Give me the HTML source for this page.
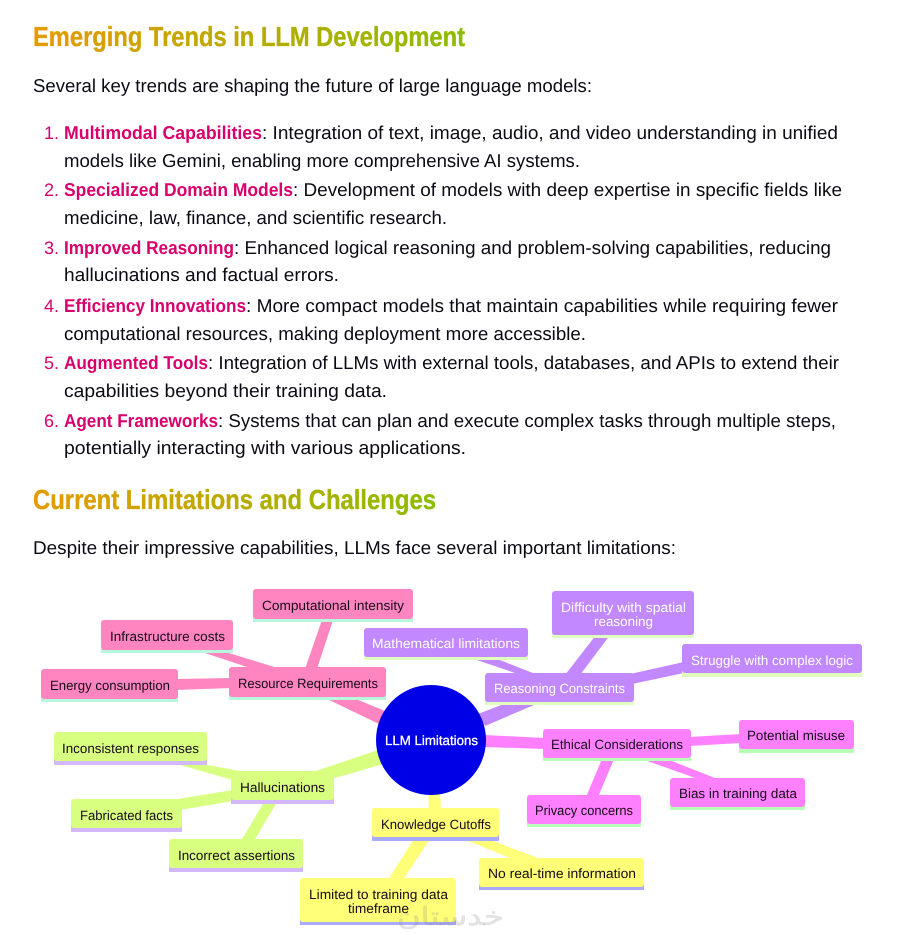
<!DOCTYPE html>
<html lang="en">
<head>
<meta charset="utf-8">
<title>Emerging Trends in LLM Development</title>
<style>
html,body{margin:0;padding:0;background:#fff;width:900px;height:949px;overflow:hidden}
svg{display:block}
text{font-family:"Liberation Sans",sans-serif;text-rendering:geometricPrecision}
.h{font-size:27.5px;font-weight:700;fill:url(#g);stroke:url(#g);stroke-width:.35px}
.b{font-size:18.6px;fill:#0a0a14}
.s{font-size:18.6px;font-weight:700;fill:#d9006c}
.n{font-size:18px;fill:#d9006c}
.t{font-size:13.4px;fill:#160a18}
.w{font-size:13.4px;fill:#fff}
.pk polygon,.pk rect.f{fill:#ff85c0}.pk rect.e{fill:#b9f7dc}
.pu polygon,.pu rect.f{fill:#c288ff}.pu rect.e{fill:#e0ffbf}
.mg polygon,.mg rect.f{fill:#ff80ff}.mg rect.e{fill:#b8ffb8}
.gr polygon,.gr rect.f{fill:#d8ff80}.gr rect.e{fill:#d4b8ff}
.ye polygon,.ye rect.f{fill:#ffff78}.ye rect.e{fill:#aaaaff}
</style>
</head>
<body>
<svg width="900" height="949" viewBox="0 0 900 949" xmlns="http://www.w3.org/2000/svg">
<defs>
<linearGradient id="g" x1="0" y1="0" x2="1" y2="0">
<stop offset="0" stop-color="#e69a00"/><stop offset="1" stop-color="#8cbc00"/>
</linearGradient>
</defs>

<text class="h" x="33" y="46" textLength="432" lengthAdjust="spacingAndGlyphs">Emerging Trends in LLM Development</text>
<text class="b" x="33" y="92" textLength="559" lengthAdjust="spacingAndGlyphs">Several key trends are shaping the future of large language models:</text>

<text class="n" x="44" y="139">1.</text>
<text class="s" x="64" y="139" textLength="198" lengthAdjust="spacingAndGlyphs">Multimodal Capabilities</text>
<text class="b" x="262" y="139" textLength="576" lengthAdjust="spacingAndGlyphs">: Integration of text, image, audio, and video understanding in unified</text>
<text class="b" x="64" y="167" textLength="516" lengthAdjust="spacingAndGlyphs">models like Gemini, enabling more comprehensive AI systems.</text>

<text class="n" x="44" y="196">2.</text>
<text class="s" x="64" y="196" textLength="229" lengthAdjust="spacingAndGlyphs">Specialized Domain Models</text>
<text class="b" x="293" y="196" textLength="549" lengthAdjust="spacingAndGlyphs">: Development of models with deep expertise in specific fields like</text>
<text class="b" x="64" y="224" textLength="383" lengthAdjust="spacingAndGlyphs">medicine, law, finance, and scientific research.</text>

<text class="n" x="44" y="254">3.</text>
<text class="s" x="64" y="254" textLength="170" lengthAdjust="spacingAndGlyphs">Improved Reasoning</text>
<text class="b" x="234" y="254" textLength="597" lengthAdjust="spacingAndGlyphs">: Enhanced logical reasoning and problem-solving capabilities, reducing</text>
<text class="b" x="64" y="281" textLength="275" lengthAdjust="spacingAndGlyphs">hallucinations and factual errors.</text>

<text class="n" x="44" y="312">4.</text>
<text class="s" x="64" y="312" textLength="182" lengthAdjust="spacingAndGlyphs">Efficiency Innovations</text>
<text class="b" x="246" y="312" textLength="592" lengthAdjust="spacingAndGlyphs">: More compact models that maintain capabilities while requiring fewer</text>
<text class="b" x="64" y="340" textLength="522" lengthAdjust="spacingAndGlyphs">computational resources, making deployment more accessible.</text>

<text class="n" x="44" y="369">5.</text>
<text class="s" x="64" y="369" textLength="144" lengthAdjust="spacingAndGlyphs">Augmented Tools</text>
<text class="b" x="208" y="369" textLength="631" lengthAdjust="spacingAndGlyphs">: Integration of LLMs with external tools, databases, and APIs to extend their</text>
<text class="b" x="64" y="397" textLength="323" lengthAdjust="spacingAndGlyphs">capabilities beyond their training data.</text>

<text class="n" x="44" y="427">6.</text>
<text class="s" x="64" y="427" textLength="154" lengthAdjust="spacingAndGlyphs">Agent Frameworks</text>
<text class="b" x="218" y="427" textLength="618" lengthAdjust="spacingAndGlyphs">: Systems that can plan and execute complex tasks through multiple steps,</text>
<text class="b" x="64" y="454" textLength="402" lengthAdjust="spacingAndGlyphs">potentially interacting with various applications.</text>

<text class="h" x="33" y="509" textLength="403" lengthAdjust="spacingAndGlyphs">Current Limitations and Challenges</text>
<text class="b" x="33" y="554" textLength="643" lengthAdjust="spacingAndGlyphs">Despite their impressive capabilities, LLMs face several important limitations:</text>

<!-- Resource Requirements -->
<g class="pk">
<polygon points="323,697 351,697 385,711 379,724"/>
<polygon points="322,620 333,620 317,669 305,669"/>
<polygon points="196,650 219,650 281,669 253,669"/>
<polygon points="176,679 231,678 231,688 176,690"/>
<rect class="e" x="253" y="592" width="160" height="30"/><rect class="f" x="253" y="589" width="160" height="30" rx="3"/>
<rect class="e" x="101" y="623" width="132" height="30"/><rect class="f" x="101" y="620" width="132" height="30" rx="3"/>
<rect class="e" x="41" y="672" width="137" height="30"/><rect class="f" x="41" y="669" width="137" height="30" rx="3"/>
<rect class="e" x="229" y="670" width="157" height="30"/><rect class="f" x="229" y="667" width="157" height="30" rx="3"/>
<text class="t" x="262" y="610" textLength="142" lengthAdjust="spacingAndGlyphs">Computational intensity</text>
<text class="t" x="110" y="641" textLength="115" lengthAdjust="spacingAndGlyphs">Infrastructure costs</text>
<text class="t" x="50" y="690" textLength="120" lengthAdjust="spacingAndGlyphs">Energy consumption</text>
<text class="t" x="238" y="688" textLength="140" lengthAdjust="spacingAndGlyphs">Resource Requirements</text>
</g>

<!-- Reasoning Constraints -->
<g class="pu">
<polygon points="509,702 541,702 485,726 478,714"/>
<polygon points="468,657 492,657 538,675 521,675"/>
<polygon points="596,635 610,635 580,675 565,675"/>
<polygon points="630,674 684,662 684,673 632,684"/>
<rect class="e" x="364" y="631" width="164" height="29"/><rect class="f" x="364" y="628" width="164" height="29" rx="3"/>
<rect class="e" x="552" y="594" width="142" height="44"/><rect class="f" x="552" y="591" width="142" height="44" rx="3"/>
<rect class="e" x="682" y="648" width="180" height="29"/><rect class="f" x="682" y="644" width="180" height="29" rx="3"/>
<rect class="e" x="485" y="676" width="149" height="29"/><rect class="f" x="485" y="673" width="149" height="29" rx="3"/>
<text class="w" x="372" y="648" textLength="148" lengthAdjust="spacingAndGlyphs">Mathematical limitations</text>
<text class="w" x="561" y="612" textLength="125" lengthAdjust="spacingAndGlyphs">Difficulty with spatial</text>
<text class="w" x="594" y="626" textLength="59" lengthAdjust="spacingAndGlyphs">reasoning</text>
<text class="w" x="691" y="665" textLength="162" lengthAdjust="spacingAndGlyphs">Struggle with complex logic</text>
<text class="w" x="494" y="693" textLength="131" lengthAdjust="spacingAndGlyphs">Reasoning Constraints</text>
</g>

<!-- Ethical Considerations -->
<g class="mg">
<polygon points="484,735 545,738 545,749 484,747"/>
<polygon points="689,737 741,734 741,743 689,746"/>
<polygon points="602,759 614,759 598,797 586,797"/>
<polygon points="639,758 664,758 720,780 701,780"/>
<rect class="e" x="543" y="732" width="148" height="29"/><rect class="f" x="543" y="729" width="148" height="29" rx="3"/>
<rect class="e" x="739" y="724" width="115" height="29"/><rect class="f" x="739" y="720" width="115" height="29" rx="3"/>
<rect class="e" x="527" y="798" width="114" height="29"/><rect class="f" x="527" y="795" width="114" height="29" rx="3"/>
<rect class="e" x="670" y="781" width="135" height="29"/><rect class="f" x="670" y="778" width="135" height="29" rx="3"/>
<text class="t" x="551" y="749" textLength="132" lengthAdjust="spacingAndGlyphs">Ethical Considerations</text>
<text class="t" x="747" y="740" textLength="98" lengthAdjust="spacingAndGlyphs">Potential misuse</text>
<text class="t" x="535" y="815" textLength="98" lengthAdjust="spacingAndGlyphs">Privacy concerns</text>
<text class="t" x="679" y="798" textLength="118" lengthAdjust="spacingAndGlyphs">Bias in training data</text>
</g>

<!-- Hallucinations -->
<g class="gr">
<polygon points="378,750 383,764 332,779 310,773"/>
<polygon points="166,761 185,761 240,771 233,780"/>
<polygon points="178,799 233,790 233,801 180,810"/>
<polygon points="264,802 277,802 254,841 241,841"/>
<rect class="e" x="54" y="736" width="153" height="29"/><rect class="f" x="54" y="732" width="153" height="29" rx="3"/>
<rect class="e" x="231" y="775" width="103" height="29"/><rect class="f" x="231" y="771" width="103" height="29" rx="3"/>
<rect class="e" x="71" y="803" width="111" height="29"/><rect class="f" x="71" y="799" width="111" height="29" rx="3"/>
<rect class="e" x="169" y="843" width="134" height="29"/><rect class="f" x="169" y="839" width="134" height="29" rx="3"/>
<text class="t" x="62" y="753" textLength="137" lengthAdjust="spacingAndGlyphs">Inconsistent responses</text>
<text class="t" x="240" y="792" textLength="85" lengthAdjust="spacingAndGlyphs">Hallucinations</text>
<text class="t" x="80" y="820" textLength="93" lengthAdjust="spacingAndGlyphs">Fabricated facts</text>
<text class="t" x="178" y="860" textLength="117" lengthAdjust="spacingAndGlyphs">Incorrect assertions</text>
</g>

<!-- Knowledge Cutoffs -->
<g class="ye">
<polygon points="428,790 440,790 441,810 429,810"/>
<polygon points="414,839 430,839 403,880 388,880"/>
<polygon points="461,838 485,838 543,860 515,860"/>
<rect class="e" x="372" y="812" width="127" height="29"/><rect class="f" x="372" y="808" width="127" height="29" rx="3"/>
<rect class="e" x="479" y="861" width="165" height="29"/><rect class="f" x="479" y="858" width="165" height="29" rx="3"/>
<rect class="e" x="300" y="881" width="156" height="44"/><rect class="f" x="300" y="878" width="156" height="44" rx="3"/>
<text class="t" x="381" y="829" textLength="110" lengthAdjust="spacingAndGlyphs">Knowledge Cutoffs</text>
<text class="t" x="488" y="878" textLength="148" lengthAdjust="spacingAndGlyphs">No real-time information</text>
<text class="t" x="309" y="899" textLength="139" lengthAdjust="spacingAndGlyphs">Limited to training data</text>
<text class="t" x="348" y="913" textLength="61" lengthAdjust="spacingAndGlyphs">timeframe</text>
</g>

<!-- Root -->
<circle cx="431" cy="740" r="55" fill="#0000e6"/>
<text x="385" y="745" font-size="13.4" fill="#fff" stroke="#fff" stroke-width=".3" textLength="93" lengthAdjust="spacingAndGlyphs">LLM Limitations</text>

<!-- Watermark -->
<text x="397" y="925" font-size="25" fill="#8a8a8a" fill-opacity="0.22" stroke="#8a8a8a" stroke-opacity="0.18" stroke-width=".6" textLength="107" lengthAdjust="spacingAndGlyphs" style="font-family:'DejaVu Sans',sans-serif">خدستان</text>
</svg>
</body>
</html>
